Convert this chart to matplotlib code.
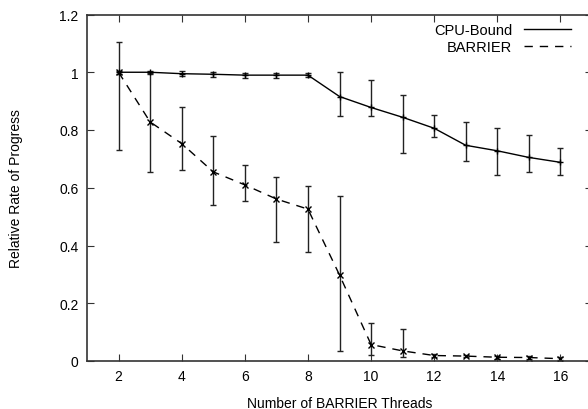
import matplotlib
matplotlib.use("Agg")
import matplotlib.pyplot as plt

plt.rcParams["font.family"] = ["Liberation Sans", "DejaVu Sans"]

threads = [2, 3, 4, 5, 6, 7, 8, 9, 10, 11, 12, 13, 14, 15, 16]

cpu_mean = [1.0, 1.0, 0.995, 0.993, 0.99, 0.99, 0.99, 0.916, 0.878, 0.844, 0.806, 0.747, 0.728, 0.705, 0.688]
cpu_lo = [0.993, 0.993, 0.987, 0.985, 0.981, 0.981, 0.982, 0.849, 0.848, 0.72, 0.776, 0.691, 0.645, 0.656, 0.645]
cpu_hi = [1.006, 1.006, 1.003, 1.001, 0.998, 0.998, 0.998, 1.002, 0.973, 0.921, 0.851, 0.829, 0.808, 0.783, 0.738]

bar_mean = [1.0, 0.828, 0.753, 0.655, 0.61, 0.561, 0.526, 0.298, 0.057, 0.035, 0.019, 0.017, 0.013, 0.012, 0.008]
bar_lo = [0.731, 0.654, 0.663, 0.54, 0.553, 0.411, 0.376, 0.036, 0.022, 0.014, 0.013, 0.013, 0.007, 0.008, 0.003]
bar_hi = [1.105, 0.999, 0.878, 0.78, 0.678, 0.638, 0.605, 0.57, 0.132, 0.112, 0.025, 0.021, 0.019, 0.016, 0.013]

fig = plt.figure(figsize=(5.88, 4.10), dpi=100)
ax = fig.add_axes([87 / 588, 48 / 410, 505 / 588, 346.5 / 410])

cpu_err = [[m - l for m, l in zip(cpu_mean, cpu_lo)], [h - m for m, h in zip(cpu_mean, cpu_hi)]]
bar_err = [[m - l for m, l in zip(bar_mean, bar_lo)], [h - m for m, h in zip(bar_mean, bar_hi)]]

ax.errorbar(threads, cpu_mean, yerr=cpu_err, color="black", lw=1.0, marker="+",
            ms=4, mew=1.0, elinewidth=1.0, ecolor="#222222", capsize=2.5,
            label="CPU-Bound")
ax.errorbar(threads, bar_mean, yerr=bar_err, color="black", lw=1.0, marker="x",
            ms=4, mew=1.0, elinewidth=1.0, ecolor="#222222", capsize=2.5,
            linestyle=(0, (6, 5)), label="BARRIER")

ax.set_xlim(1, 17)
ax.set_ylim(0, 1.2)
ax.set_xticks([2, 4, 6, 8, 10, 12, 14, 16])
ax.set_yticks([0, 0.2, 0.4, 0.6, 0.8, 1.0, 1.2])
ax.set_yticklabels(["0", "0.2", "0.4", "0.6", "0.8", "1", "1.2"])
ax.tick_params(direction="in", length=5, width=0.8, top=True, right=True,
               labelsize=10, pad=6, colors="#333333", labelcolor="black")
for s in ax.spines.values():
    s.set_linewidth(1.2)
    s.set_color("#333333")

ax.set_xlabel("Number of BARRIER Threads", fontsize=10, labelpad=9)
ax.set_ylabel("Relative Rate of Progress", fontsize=10, labelpad=26)

handles, labels = ax.get_legend_handles_labels()
handles = [h[0] for h in handles]
leg = ax.legend(handles, labels, loc="upper right", frameon=False, fontsize=10.5,
                markerfirst=False, handlelength=3.2, handletextpad=0.8,
                borderaxespad=0.2, labelspacing=0.2, bbox_to_anchor=(0.975, 1.0))
for h in leg.legend_handles:
    h.set_marker("")

fig.savefig("out.png", dpi=100)
